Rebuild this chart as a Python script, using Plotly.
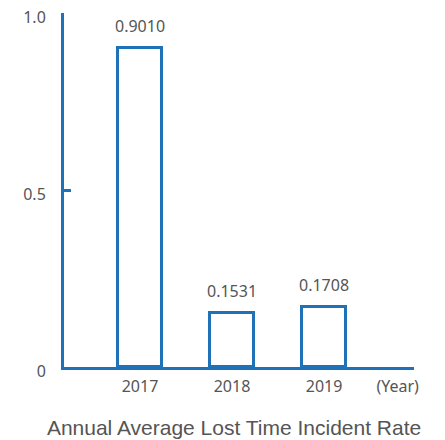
import plotly.graph_objects as go

years = ["2017", "2018", "2019"]
rates = [0.9010, 0.1531, 0.1708]
labels = ["0.9010", "0.1531", "0.1708"]
y_ticks = [0, 0.5, 1.0]
y_ticktext = ["0", "0.5", "1.0"]
unit_label = "(Year)"
title_text = "Annual Average Lost Time Incident Rate"

BLUE = "#1f72b8"
GRAY = "#555555"

xpos = list(range(len(years)))

fig = go.Figure()
fig.add_trace(go.Bar(
    x=xpos, y=rates, width=0.47,
    marker=dict(color="white", line=dict(color=BLUE, width=3)),
    hoverinfo="skip",
))
fig.add_trace(go.Scatter(x=[xpos[0]], y=[0], yaxis="y2", mode="markers",
                         marker=dict(opacity=0), hoverinfo="skip", showlegend=False))

for xi, v, t in zip(xpos, rates, labels):
    fig.add_annotation(x=xi, y=v, text=t, showarrow=False, yanchor="bottom",
                       yshift=9, font=dict(family="Noto Sans", size=16, color=GRAY))

fig.update_layout(
    width=445, height=440,
    margin=dict(l=64, r=31, t=13, b=73, autoexpand=False),
    paper_bgcolor="white", plot_bgcolor="white",
    showlegend=False,
    bargap=0,
    title=dict(text=title_text, x=0.526, xanchor="center", y=0.027, yanchor="middle",
               xref="container", yref="container", automargin=False,
               font=dict(family="Liberation Sans, Arial", size=21, color=GRAY)),
    xaxis=dict(
        range=[-0.826, 2.978], automargin=False,
        tickvals=xpos + [2.80], ticktext=years + [unit_label],
        showgrid=False, zeroline=False,
        showline=True, linecolor=BLUE, linewidth=3,
        ticks="", ticklabelstandoff=3,
        tickfont=dict(family="Noto Sans", size=16, color=GRAY),
        fixedrange=True,
    ),
    yaxis=dict(
        range=[0, 1.0], automargin=False,
        tickvals=y_ticks, ticktext=y_ticktext,
        showgrid=False, zeroline=False,
        showline=True, linecolor=BLUE, linewidth=3,
        ticks="", ticklabelstandoff=12, ticklabelshift=4,
        tickfont=dict(family="Noto Sans", size=16, color=GRAY),
        fixedrange=True,
    ),
    yaxis2=dict(
        overlaying="y", side="left", matches="y", range=[0, 1.0], automargin=False,
        tickvals=[0.5], ticks="inside", ticklen=7, tickwidth=3, tickcolor=BLUE,
        showticklabels=False, showgrid=False, zeroline=False, showline=False,
        fixedrange=True,
    ),
)

fig.write_html("out.html", post_script="document.body.style.margin='0px';",
               config={"displayModeBar": False})
